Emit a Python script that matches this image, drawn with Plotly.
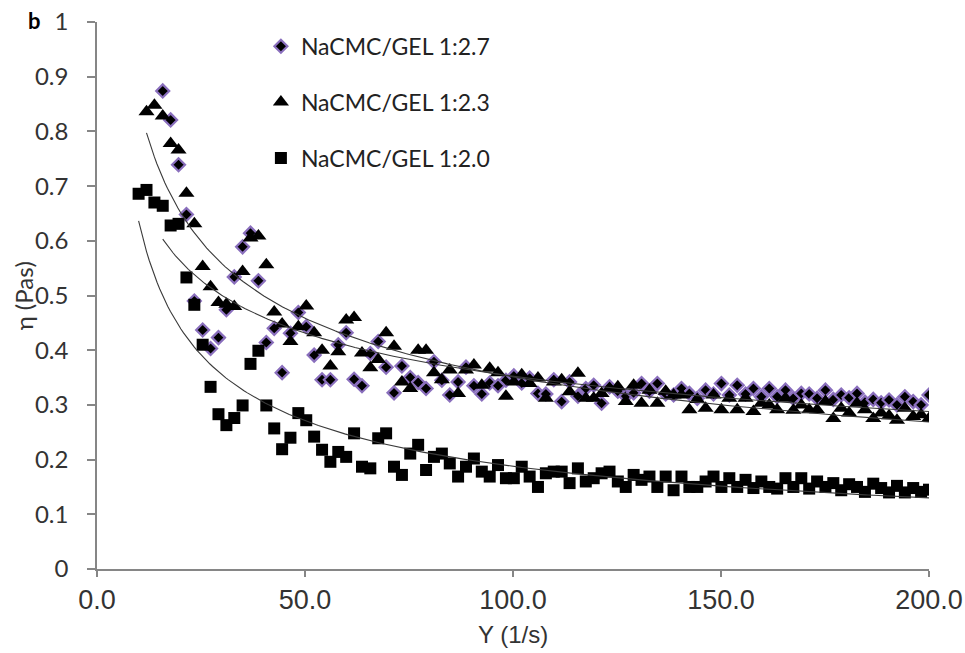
import numpy as np
import plotly.graph_objects as go

# Shear-rate grid (1/s) shared by the three samples
SHEAR_RATE = [
    10.0, 11.9, 13.8, 15.8, 17.7, 19.6, 21.5, 23.4, 25.4, 27.3,
    29.2, 31.1, 33.0, 35.0, 36.9, 38.8, 40.7, 42.6, 44.5, 46.5,
    48.4, 50.3, 52.2, 54.1, 56.1, 58.0, 59.9, 61.8, 63.7, 65.7,
    67.6, 69.5, 71.4, 73.3, 75.3, 77.2, 79.1, 81.0, 82.9, 84.8,
    86.8, 88.7, 90.6, 92.5, 94.4, 96.4, 98.3, 100.2, 102.1, 104.0,
    106.0, 107.9, 109.8, 111.7, 113.6, 115.6, 117.5, 119.4, 121.3, 123.2,
    125.2, 127.1, 129.0, 130.9, 132.8, 134.7, 136.7, 138.6, 140.5, 142.4,
    144.3, 146.3, 148.2, 150.1, 152.0, 153.9, 155.9, 157.8, 159.7, 161.6,
    163.5, 165.5, 167.4, 169.3, 171.2, 173.1, 175.1, 177.0, 178.9, 180.8,
    182.7, 184.6, 186.6, 188.5, 190.4, 192.3, 194.2, 196.2, 198.1, 200.0,
]

# Apparent viscosity (Pa s), NaCMC/GEL 1:2.7 (first reading at 15.8 1/s)
ETA_27 = [
    0.874, 0.821, 0.739, 0.648, 0.490, 0.437, 0.403, 0.423, 0.474, 0.534,
    0.589, 0.614, 0.527, 0.414, 0.440, 0.359, 0.431, 0.469, 0.443, 0.391,
    0.346, 0.346, 0.410, 0.432, 0.347, 0.335, 0.394, 0.416, 0.369, 0.322,
    0.371, 0.350, 0.341, 0.330, 0.379, 0.345, 0.318, 0.342, 0.369, 0.335,
    0.320, 0.340, 0.335, 0.345, 0.353, 0.340, 0.349, 0.321, 0.320, 0.346,
    0.306, 0.342, 0.316, 0.330, 0.336, 0.303, 0.333, 0.325, 0.316, 0.322,
    0.339, 0.325, 0.339, 0.320, 0.318, 0.330, 0.321, 0.312, 0.327, 0.320,
    0.339, 0.318, 0.336, 0.320, 0.330, 0.315, 0.330, 0.315, 0.327, 0.312,
    0.321, 0.320, 0.312, 0.327, 0.310, 0.318, 0.313, 0.321, 0.305, 0.310,
    0.304, 0.309, 0.300, 0.315, 0.306, 0.300, 0.318,
]

# NaCMC/GEL 1:2.3 (first reading at 11.9 1/s)
ETA_23 = [
    0.836, 0.848, 0.828, 0.778, 0.766, 0.687, 0.631, 0.553, 0.516, 0.487,
    0.484, 0.480, 0.544, 0.605, 0.609, 0.556, 0.470, 0.448, 0.416, 0.443,
    0.481, 0.432, 0.400, 0.371, 0.397, 0.455, 0.460, 0.395, 0.368, 0.383,
    0.432, 0.407, 0.342, 0.330, 0.400, 0.400, 0.359, 0.346, 0.364, 0.321,
    0.364, 0.373, 0.336, 0.367, 0.359, 0.316, 0.342, 0.355, 0.339, 0.349,
    0.312, 0.342, 0.346, 0.324, 0.358, 0.312, 0.312, 0.321, 0.330, 0.333,
    0.306, 0.336, 0.303, 0.327, 0.303, 0.325, 0.318, 0.318, 0.291, 0.310,
    0.294, 0.318, 0.291, 0.312, 0.291, 0.312, 0.288, 0.303, 0.300, 0.291,
    0.312, 0.290, 0.300, 0.291, 0.291, 0.306, 0.275, 0.294, 0.285, 0.303,
    0.291, 0.275, 0.285, 0.280, 0.272, 0.294, 0.279, 0.282, 0.275,
]

# NaCMC/GEL 1:2.0 (first reading at 10.0 1/s)
ETA_20 = [
    0.686, 0.693, 0.670, 0.664, 0.628, 0.631, 0.533, 0.483, 0.410, 0.333,
    0.283, 0.263, 0.276, 0.299, 0.375, 0.399, 0.299, 0.257, 0.219, 0.240,
    0.285, 0.272, 0.242, 0.218, 0.196, 0.214, 0.205, 0.248, 0.187, 0.184,
    0.239, 0.248, 0.187, 0.172, 0.211, 0.227, 0.181, 0.205, 0.211, 0.193,
    0.169, 0.187, 0.202, 0.178, 0.169, 0.190, 0.166, 0.166, 0.187, 0.169,
    0.150, 0.175, 0.178, 0.178, 0.157, 0.184, 0.160, 0.166, 0.175, 0.178,
    0.160, 0.150, 0.172, 0.163, 0.169, 0.150, 0.169, 0.144, 0.169, 0.150,
    0.150, 0.160, 0.169, 0.150, 0.166, 0.150, 0.163, 0.148, 0.160, 0.150,
    0.147, 0.166, 0.150, 0.166, 0.147, 0.160, 0.150, 0.157, 0.144, 0.155,
    0.150, 0.141, 0.156, 0.148, 0.140, 0.152, 0.140, 0.148, 0.141, 0.145,
]

SERIES_NAMES = ["NaCMC/GEL 1:2.7", "NaCMC/GEL 1:2.3", "NaCMC/GEL 1:2.0"]
SERIES_DATA = [ETA_27, ETA_23, ETA_20]

X_TICKS = [0, 50, 100, 150, 200]
Y_TICKS = [0, 0.1, 0.2, 0.3, 0.4, 0.5, 0.6, 0.7, 0.8, 0.9, 1.0]
Y_TICK_TEXT = ["0", "0.1", "0.2", "0.3", "0.4", "0.5", "0.6",
               "0.7", "0.8", "0.9", "1"]

MARKERS = [
    dict(symbol="diamond", size=10, color="#000000",
         line=dict(color="#8a6fbd", width=2.2)),
    dict(symbol="triangle-up", size=14, color="#000000", line=dict(width=0)),
    dict(symbol="square", size=12, color="#000000", line=dict(width=0)),
]

AXIS_GREY = "#868686"
TEXT_COL = "#333333"
LABEL_FONT = "Lato, 'Open Sans', sans-serif"
ARIAL_FONT = "'Liberation Sans', Arial, sans-serif"


def power_fit(x, y):
    """Least-squares power-law fit y = a * x**b (log-log regression)."""
    b, ln_a = np.polyfit(np.log(x), np.log(y), 1)
    return np.exp(ln_a), b


fig = go.Figure()

# Measured points
for i, (name, eta, mk) in enumerate(zip(SERIES_NAMES, SERIES_DATA, MARKERS)):
    x = SHEAR_RATE[len(SHEAR_RATE) - len(eta):]
    fig.add_trace(go.Scatter(
        x=x, y=eta, mode="markers", name=name, marker=mk,
        legendgroup=f"g{i}", showlegend=True,
    ))

# Power-law trendlines over each sample's measured range
for i, eta in enumerate(SERIES_DATA):
    x = np.array(SHEAR_RATE[len(SHEAR_RATE) - len(eta):])
    a, b = power_fit(x, np.array(eta))
    xs = np.linspace(x.min(), x.max(), 300)
    fig.add_trace(go.Scatter(
        x=xs, y=a * xs ** b, mode="lines",
        line=dict(color="#3a3a3a", width=1.1),
        showlegend=False, hoverinfo="skip", legendgroup=f"g{i}",
    ))

fig.update_layout(
    width=965, height=653,
    margin=dict(l=97, r=36, t=22, b=84),
    paper_bgcolor="white", plot_bgcolor="white",
    showlegend=True,
    legend=dict(
        x=0.197, y=0.995, xanchor="left", yanchor="top",
        font=dict(family=LABEL_FONT, size=23, color="#222222"),
        bgcolor="rgba(0,0,0,0)", tracegroupgap=23,
        traceorder="grouped",
    ),
    xaxis=dict(
        range=[0, 200], tickvals=X_TICKS, tickformat=".1f",
        showline=True, linecolor=AXIS_GREY, linewidth=1.5,
        ticks="outside", ticklen=6, tickwidth=1.5, tickcolor=AXIS_GREY,
        showgrid=False, zeroline=False, automargin=False,
        ticklabeloverflow="allow",
        tickfont=dict(family=ARIAL_FONT, size=27, color=TEXT_COL),
    ),
    yaxis=dict(
        range=[0, 1], tickvals=Y_TICKS, ticktext=Y_TICK_TEXT,
        showline=True, linecolor=AXIS_GREY, linewidth=1.5,
        ticks="outside", ticklen=8, tickwidth=1.5, tickcolor=AXIS_GREY,
        showgrid=False, zeroline=False, automargin=False,
        ticklabelstandoff=14,
        tickfont=dict(family=LABEL_FONT, size=24, color=TEXT_COL),
    ),
    annotations=[
        dict(text="Y (1/s)", x=0.5, y=-0.12, xref="paper", yref="paper",
             xanchor="center", yanchor="middle", showarrow=False,
             font=dict(family=ARIAL_FONT, size=24, color=TEXT_COL)),
        dict(text="η (Pas)", x=-0.088, y=0.50, xref="paper", yref="paper",
             xanchor="center", yanchor="middle", showarrow=False,
             textangle=-90,
             font=dict(family=LABEL_FONT, size=24, color=TEXT_COL)),
        dict(text="<b>b</b>", x=-0.075, y=1.003, xref="paper", yref="paper",
             xanchor="center", yanchor="middle", showarrow=False,
             font=dict(family=LABEL_FONT, size=22, color="#000000")),
    ],
)

fig.write_html("out.html")
